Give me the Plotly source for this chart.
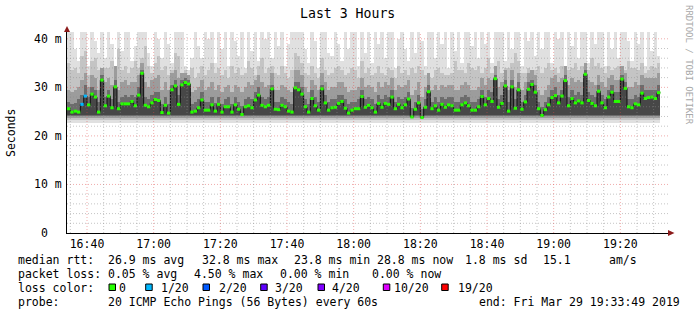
import plotly.graph_objects as go
from datetime import datetime, timedelta

# ---------------- data ----------------
START_TIME = "2019-03-29 16:34:00"
STEP_MIN = 1

MEDIAN = [
    25.6, 24.9, 25.1, 24.9, 26.5, 28.2, 26.4, 28.6, 28.0, 24.9,
    31.5, 26.2, 28.2, 25.8, 30.1, 25.6, 26.6, 26.6, 26.6, 27.1,
    26.2, 28.4, 32.9, 26.3, 26.0, 26.8, 27.5, 27.3, 24.8, 26.3,
    24.7, 29.5, 30.3, 26.5, 30.5, 31.0, 30.7, 24.9, 25.1, 25.8,
    27.4, 25.3, 25.3, 26.4, 25.1, 26.5, 24.9, 26.0, 26.0, 24.9,
    26.4, 25.5, 24.4, 26.0, 26.2, 25.8, 27.4, 28.4, 26.3, 26.0,
    26.3, 29.7, 25.5, 25.4, 26.3, 26.0, 25.1, 24.9, 29.9, 29.5,
    28.6, 26.0, 24.9, 27.7, 26.2, 25.3, 29.7, 26.8, 25.3, 25.8,
    25.9, 26.7, 27.1, 25.7, 24.7, 25.3, 25.6, 25.6, 28.1, 25.9,
    26.3, 25.8, 24.9, 26.7, 25.9, 26.7, 26.5, 28.0, 25.6, 26.5,
    25.8, 26.4, 27.6, 23.9, 25.5, 26.8, 23.8, 25.9, 29.1, 25.6,
    26.2, 25.3, 26.5, 25.9, 26.4, 26.2, 25.3, 25.3, 26.4, 26.8,
    26.2, 25.3, 25.3, 26.0, 28.1, 26.4, 27.7, 27.1, 31.8, 25.9,
    26.7, 30.3, 25.1, 30.1, 25.7, 29.5, 25.5, 27.0, 29.6, 30.6,
    29.0, 25.6, 24.2, 25.4, 26.4, 27.9, 28.3, 26.8, 28.2, 31.4,
    26.2, 27.7, 26.8, 27.2, 26.8, 32.7, 27.3, 26.7, 26.2, 29.2,
    26.8, 25.8, 28.0, 29.0, 27.1, 27.1, 31.7, 29.8, 26.0, 25.8,
    26.6, 26.4, 28.8, 27.7, 27.9, 28.0, 27.7, 28.9,
]

# lost pings (out of 20) per step
LOSS = [0] * len(MEDIAN)
LOSS_STEPS_WITH_LOSS = {4: 1, 5: 1}

# smoke: upper edges of the four grey layers (outer -> inner), ms
SMOKE_TOP = [
    41.5, 41.5, 38.0, 35.5, 41.5, 41.5, 34.5, 41.5, 39.5, 37.0,
    41.5, 36.0, 41.5, 39.0, 34.0, 41.5, 37.5, 41.5, 41.5, 35.5,
    38.5, 41.5, 41.5, 41.5, 37.0, 34.5, 41.5, 40.0, 36.0, 41.5,
    39.0, 35.0, 41.5, 41.5, 41.5, 34.5, 33.5, 36.0, 41.5, 38.5,
    36.0, 41.5, 40.0, 41.5, 35.0, 41.5, 38.0, 41.5, 34.5, 41.5,
    39.5, 36.5, 41.5, 34.0, 41.5, 37.5, 41.5, 35.5, 41.5, 40.0,
    41.5, 36.0, 41.5, 38.5, 41.5, 34.5, 39.0, 41.5, 41.5, 41.5,
    41.5, 38.0, 35.0, 41.5, 39.5, 34.0, 41.5, 41.5, 37.0, 36.5,
    41.5, 39.0, 35.5, 41.5, 38.0, 41.5, 41.5, 34.5, 41.5, 37.0,
    41.5, 35.0, 41.5, 39.0, 41.5, 36.0, 41.5, 41.5, 34.0, 40.0,
    41.5, 38.0, 35.5, 41.5, 37.0, 41.5, 39.5, 34.5, 41.5, 41.5,
    36.0, 41.5, 39.0, 41.5, 34.0, 41.5, 37.5, 41.5, 35.0, 41.5,
    41.5, 38.5, 41.5, 36.0, 41.5, 39.0, 41.5, 35.0, 41.5, 41.5,
    41.5, 35.5, 41.5, 38.0, 41.5, 41.5, 34.5, 41.5, 39.5, 41.5,
    36.5, 41.5, 38.0, 41.5, 41.5, 35.0, 41.5, 40.0, 41.5, 34.5,
    41.5, 38.5, 41.5, 36.0, 41.5, 41.5, 35.0, 41.5, 39.0, 41.5,
    41.5, 34.5, 41.5, 38.0, 41.5, 36.0, 41.5, 41.5, 39.5, 35.5,
    41.5, 39.0, 41.5, 34.5, 41.5, 37.5, 41.5, 36.5,
]
SMOKE_HI2 = [
    35.0, 33.5, 34.0, 33.0, 36.5, 37.5, 32.5, 35.5, 36.0, 33.5,
    33.0, 34.0, 34.0, 35.5, 32.0, 38.0, 33.5, 34.5, 33.0, 34.0,
    35.5, 34.0, 36.0, 38.5, 34.5, 33.0, 35.0, 36.5, 33.5, 34.5,
    32.5, 33.5, 37.0, 36.5, 33.0, 33.5, 32.5, 34.0, 32.0, 33.0,
    34.5, 32.5, 33.5, 35.0, 33.0, 34.0, 32.5, 33.5, 32.0, 34.5,
    33.0, 34.0, 32.5, 33.0, 35.5, 34.0, 32.5, 34.5, 36.0, 33.0,
    34.0, 34.5, 33.0, 32.5, 34.5, 33.0, 32.0, 33.5, 37.0, 36.5,
    35.0, 33.0, 32.5, 34.5, 33.0, 32.0, 36.0, 33.5, 32.5, 33.0,
    34.0, 34.5, 33.5, 32.5, 33.0, 34.0, 33.5, 32.0, 35.5, 33.0,
    34.0, 32.5, 33.0, 34.5, 33.0, 32.5, 34.0, 33.5, 32.0, 34.5,
    33.0, 33.5, 32.5, 34.0, 33.0, 34.5, 33.5, 32.5, 33.0, 32.0,
    33.5, 34.0, 33.0, 32.5, 32.5, 33.0, 35.5, 33.5, 33.5, 33.0,
    35.0, 34.0, 33.5, 34.5, 33.0, 34.0, 36.0, 33.0, 34.5, 35.5,
    33.0, 34.0, 34.0, 35.0, 37.0, 35.5, 33.0, 33.0, 34.0, 32.5,
    33.5, 34.5, 33.0, 34.0, 35.0, 33.5, 34.0, 33.0, 34.5, 33.0,
    33.5, 34.0, 35.0, 33.5, 34.5, 34.0, 33.5, 36.0, 34.5, 35.0,
    34.0, 33.0, 34.5, 33.5, 34.0, 34.5, 34.0, 33.5, 35.5, 34.0,
    34.0, 33.5, 35.0, 33.0, 33.5, 34.5, 34.0, 35.0,
]
SMOKE_HI3 = [
    29.5, 29.0, 29.5, 30.0, 31.5, 33.0, 30.0, 32.5, 32.0, 29.5,
    34.0, 31.0, 32.0, 30.5, 34.5, 29.5, 31.0, 31.5, 30.5, 31.0,
    31.0, 32.5, 35.0, 31.0, 30.0, 31.5, 32.0, 32.5, 29.5, 31.0,
    29.5, 33.0, 33.5, 32.0, 33.0, 33.0, 32.5, 29.0, 29.5, 30.0,
    31.5, 29.5, 30.0, 31.0, 29.5, 30.5, 29.0, 30.0, 30.5, 29.0,
    30.5, 30.0, 29.0, 30.0, 31.0, 30.5, 31.5, 32.5, 31.0, 30.0,
    30.5, 33.0, 29.5, 29.5, 30.5, 30.0, 29.5, 29.0, 33.5, 33.5,
    32.5, 30.0, 29.0, 31.5, 30.5, 29.5, 33.0, 31.0, 29.5, 30.0,
    30.0, 31.0, 31.0, 30.0, 29.0, 29.5, 29.5, 30.0, 32.0, 30.0,
    30.5, 30.0, 29.0, 31.0, 30.0, 31.0, 30.5, 32.0, 29.5, 30.5,
    30.0, 30.5, 31.5, 28.5, 29.5, 31.0, 28.0, 30.0, 33.0, 29.5,
    30.5, 29.5, 30.5, 30.0, 30.5, 30.5, 29.5, 29.5, 30.5, 31.0,
    30.5, 29.5, 29.5, 30.0, 32.0, 30.5, 32.0, 31.5, 34.5, 30.0,
    31.0, 33.5, 29.5, 33.5, 30.0, 33.0, 29.5, 31.0, 33.0, 33.5,
    32.5, 29.5, 28.5, 29.5, 30.5, 32.0, 32.5, 31.0, 32.0, 34.5,
    30.5, 32.0, 31.0, 31.5, 31.0, 35.0, 31.5, 31.0, 30.5, 32.5,
    31.0, 30.0, 32.0, 32.5, 31.5, 31.5, 34.5, 33.0, 30.0, 30.0,
    31.0, 30.5, 32.5, 32.0, 32.0, 32.0, 32.0, 33.0,
]
SMOKE_HI4 = [
    27.0, 26.5, 26.8, 27.5, 28.5, 30.5, 28.0, 30.0, 29.5, 27.0,
    32.5, 28.0, 29.5, 27.5, 31.5, 27.0, 28.0, 28.5, 28.0, 28.5,
    28.0, 30.0, 33.5, 28.0, 27.5, 28.5, 29.0, 29.0, 26.5, 28.0,
    26.5, 30.5, 31.5, 28.5, 31.5, 32.0, 31.5, 26.5, 27.0, 27.5,
    29.0, 27.0, 27.0, 28.0, 26.8, 28.0, 26.5, 27.5, 28.0, 26.5,
    28.0, 27.0, 26.2, 27.5, 28.0, 27.5, 29.0, 30.0, 28.0, 27.5,
    28.0, 30.5, 27.0, 27.0, 28.0, 27.5, 27.0, 26.5, 31.0, 31.0,
    30.0, 27.5, 26.5, 29.5, 28.0, 27.0, 30.5, 28.5, 27.0, 27.5,
    27.5, 28.5, 28.5, 27.5, 26.5, 27.0, 27.0, 27.5, 29.5, 27.5,
    28.0, 27.5, 26.5, 28.5, 27.5, 28.5, 28.0, 29.5, 27.0, 28.0,
    27.5, 28.0, 29.0, 25.8, 27.0, 28.5, 25.5, 27.5, 30.5, 27.0,
    28.0, 27.0, 28.0, 27.5, 28.0, 28.0, 27.0, 27.0, 28.0, 28.5,
    28.0, 27.0, 27.0, 27.5, 29.5, 28.0, 29.5, 29.0, 32.5, 27.5,
    28.5, 31.5, 27.0, 31.5, 27.5, 31.0, 27.0, 28.5, 31.0, 31.5,
    30.5, 27.0, 26.0, 27.0, 28.0, 29.5, 30.0, 28.5, 29.5, 32.5,
    28.0, 29.5, 28.5, 29.0, 28.5, 33.5, 29.0, 28.5, 28.0, 30.5,
    28.5, 27.5, 29.5, 30.5, 29.0, 29.0, 32.5, 31.0, 27.5, 27.5,
    28.5, 28.0, 30.5, 29.5, 29.5, 29.5, 29.5, 30.5,
]
SMOKE_LOW = [22.6, 23.2, 23.7, 24.2]   # lower edges of the same four layers
CORE_LOW = 24.4                        # densest pings: from here up to the median

Y_TICKS = [0, 10, 20, 30, 40]
Y_TICK_LABELS = ["0\u00a0\u00a0", "10 m", "20 m", "30 m", "40 m"]
X_TICK_LABELS = ["16:40", "17:00", "17:20", "17:40", "18:00", "18:20", "18:40", "19:00", "19:20"]

TITLE = "Last 3 Hours"
Y_TITLE = "Seconds"
WATERMARK = "RRDTOOL / TOBI OETIKER"

LOSS_COLORS = {0: "#26ff00", 1: "#00b8ff", 2: "#0059ff", 3: "#5e00ff",
               4: "#7e00ff", 10: "#dd00ff", 19: "#ff0000"}
LOSS_LABELS = ["0", "1/20", "2/20", "3/20", "4/20", "10/20", "19/20"]
LOSS_KEYS = [0, 1, 2, 3, 4, 10, 19]

STATS_RTT = ["26.9 ms avg", "32.8 ms max", "23.8 ms min", "28.8 ms now", "1.8 ms sd", "15.1", "am/s"]
STATS_LOSS = ["0.05 % avg", "4.50 % max", "0.00 % min", "0.00 % now"]
PROBE_TEXT = "20 ICMP Echo Pings (56 Bytes) every 60s"
END_TEXT = "end: Fri Mar 29 19:33:49 2019"

# ---------------- styling ----------------
for k, v in LOSS_STEPS_WITH_LOSS.items():
    LOSS[k] = v
n = len(MEDIAN)
assert all(len(a) == n for a in (SMOKE_TOP, SMOKE_HI2, SMOKE_HI3, SMOKE_HI4)), \
    [len(a) for a in (MEDIAN, SMOKE_TOP, SMOKE_HI2, SMOKE_HI3, SMOKE_HI4)]

FONT = "DejaVu Sans Mono"
SMOKE_COLORS = ["#e0e0e0", "#c4c4c4", "#9c9c9c", "#6c6c6c"]
CORE_COLOR = "#474747"
W, H = 697, 315
PL, PR, PT, PB = 67, 668, 32, 233


def xp(px):
    return (px - PL) / (PR - PL)


def yp(py):
    return (PB - py) / (PB - PT)


t0 = datetime.strptime(START_TIME, "%Y-%m-%d %H:%M:%S")
step = timedelta(minutes=STEP_MIN)
centers = [t0 + step * (i + 0.5) for i in range(n)]
edges = [t0 + step * i for i in range(n + 1)]
x_end = t0 + timedelta(minutes=(PR - PL) / (66.667 / 20))
y_max = 41.4

fig = go.Figure()

# smoke layers
for hi, base, col in zip([SMOKE_TOP, SMOKE_HI2, SMOKE_HI3, SMOKE_HI4], SMOKE_LOW, SMOKE_COLORS):
    fig.add_trace(go.Bar(
        x=centers, y=[h - base for h in hi], base=base,
        width=STEP_MIN * 60000, marker=dict(color=col, line=dict(width=0)),
        hoverinfo="skip", showlegend=False))
# densest core (below the median)
fig.add_trace(go.Bar(
    x=centers, y=[max(m - CORE_LOW, 0) for m in MEDIAN], base=CORE_LOW,
    width=STEP_MIN * 60000, marker=dict(color=CORE_COLOR, line=dict(width=0)),
    hoverinfo="skip", showlegend=False))

# median step line (thin dark)
fig.add_trace(go.Scatter(
    x=edges, y=MEDIAN + [MEDIAN[-1]], mode="lines", line_shape="hv",
    line=dict(color="#111111", width=1), hoverinfo="skip", showlegend=False))

# median coloured by loss
for key in sorted(set(LOSS)):
    xs, ys = [], []
    for i in range(n):
        if LOSS[i] == key:
            xs += [edges[i], edges[i + 1], None]
            ys += [MEDIAN[i], MEDIAN[i], None]
    fig.add_trace(go.Scatter(
        x=xs, y=ys, mode="lines", line=dict(color=LOSS_COLORS[key], width=3),
        hoverinfo="skip", showlegend=False))

# grid drawn above the smoke (like rrdtool)
shapes = []
minor_col = "rgba(140,140,140,0.5)"
major_col = "rgba(222,70,70,0.45)"
g = 2
while g <= y_max:
    major = (g % 10 == 0)
    shapes.append(dict(type="line", xref="paper", yref="y", x0=0, x1=1, y0=g, y1=g,
                       line=dict(color=major_col if major else minor_col, width=1, dash="1px,2px"),
                       layer="above"))
    g += 2
tickvals_x = [datetime.strptime(START_TIME[:11] + s, "%Y-%m-%d %H:%M") for s in X_TICK_LABELS]
t = t0 + timedelta(minutes=1)
while t < x_end:
    if t.minute % 5 == 0:
        major = (t.minute % 20 == 0)
        shapes.append(dict(type="line", xref="x", yref="paper", x0=t, x1=t, y0=0, y1=1,
                           line=dict(color=major_col if major else minor_col, width=1, dash="1px,2px"),
                           layer="above"))
    t += timedelta(minutes=1)

# axis arrows
arrow_col = "#8b1a1a"
shapes.append(dict(type="path", xref="paper", yref="paper",
                   path=f"M {xp(64.0)} {yp(32)} L {xp(70.0)} {yp(32)} L {xp(67)} {yp(26)} Z",
                   fillcolor=arrow_col, line=dict(width=0), layer="above"))
shapes.append(dict(type="path", xref="paper", yref="paper",
                   path=f"M {xp(668)} {yp(230)} L {xp(668)} {yp(236)} L {xp(674.5)} {yp(233)} Z",
                   fillcolor=arrow_col, line=dict(width=0), layer="above"))

annotations = []


def txt(s, px, py, size=11.5, color="#000", anchor="left", angle=0):
    annotations.append(dict(text=s, x=xp(px), y=yp(py), xref="paper", yref="paper",
                            xanchor=anchor, yanchor="middle", showarrow=False,
                            textangle=angle, font=dict(family=FONT, size=size, color=color)))


txt(TITLE, 347.5, 14, size=13.2, anchor="center")
txt(Y_TITLE, 11, 133, size=11.5, anchor="center", angle=-90)
txt(WATERMARK, 689, 65, size=9, color="#a8a8a8", anchor="center", angle=90)

LX = 16.3
row_y = [259.5, 273.5, 287.5, 301.8]
txt("median rtt:", LX, row_y[0])
for s, px in zip(STATS_RTT, [106.3, 200.0, 292.3, 374.7, 463.3, 541.0, 606.5]):
    txt(s, px, row_y[0])
txt("packet loss:", LX, row_y[1])
for s, px in zip(STATS_LOSS, [106.3, 192.3, 278.3, 369.7]):
    txt(s, px, row_y[1])
txt("loss color:", LX, row_y[2])
box_x = [109, 145.7, 203, 260.7, 318, 383.3, 441.7]
lab_x = [117.3, 159.0, 216.7, 273.3, 330.0, 392.3, 456.3]
for key, lab, bx, lx in zip(LOSS_KEYS, LOSS_LABELS, box_x, lab_x):
    shapes.append(dict(type="rect", xref="paper", yref="paper",
                       x0=xp(bx), x1=xp(bx + 6.5), y0=yp(290.5), y1=yp(284),
                       fillcolor=LOSS_COLORS[key], line=dict(color="#000", width=1)))
    txt(lab, lx, row_y[2])
txt("probe:", LX, row_y[3])
txt(PROBE_TEXT, 106.3, row_y[3])
txt(END_TEXT, 477.3, row_y[3])

fig.update_layout(
    width=W, height=H,
    margin=dict(l=PL, r=W - PR, t=PT, b=H - PB, pad=0),
    paper_bgcolor="#ffffff", plot_bgcolor="#ffffff",
    barmode="overlay", bargap=0, showlegend=False,
    shapes=shapes, annotations=annotations,
    font=dict(family=FONT, size=11.5, color="#000"),
)
fig.update_xaxes(
    type="date", range=[t0, x_end], showgrid=False, zeroline=False,
    tickvals=tickvals_x, ticktext=X_TICK_LABELS, ticks="",
    showline=True, linecolor="#000", linewidth=1,
    tickfont=dict(family=FONT, size=11.5, color="#000"), ticklabelstandoff=0,
    fixedrange=True,
)
fig.update_yaxes(
    range=[0, y_max], showgrid=False, zeroline=False,
    tickvals=Y_TICKS, ticktext=Y_TICK_LABELS, ticks="",
    showline=True, linecolor="#000", linewidth=1,
    tickfont=dict(family=FONT, size=11.5, color="#000"), ticklabelstandoff=2,
    fixedrange=True,
)

fig.write_html("out.html", config={"displayModeBar": False})
